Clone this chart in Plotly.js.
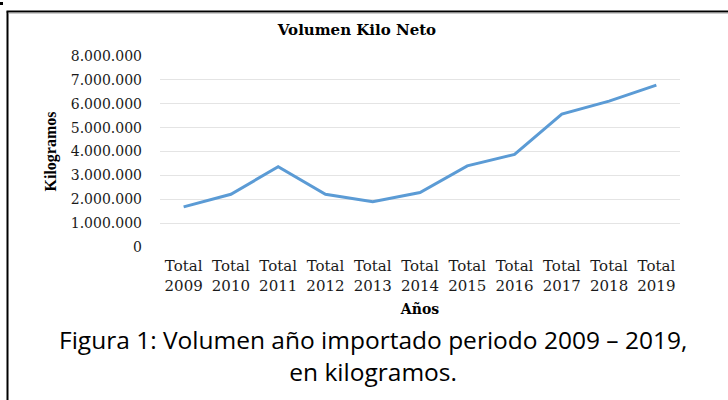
<!DOCTYPE html>
<html>
<head>
<meta charset="utf-8">
<script src="https://cdn.plot.ly/plotly-3.0.1.min.js"></script>
<style>
html,body{margin:0;padding:0;background:#fff;}
#chart{width:728px;height:400px;}
</style>
</head>
<body>
<div id="chart"></div>
<script>
// Data
var years = ['2009','2010','2011','2012','2013','2014','2015','2016','2017','2018','2019'];
var categoryLabels = years.map(function(y){ return 'Total<br>' + y; });
var volumenKilos = [1680000, 2210000, 3360000, 2210000, 1900000, 2280000, 3400000, 3880000, 5570000, 6110000, 6780000];
var captionLines = ['Figura 1: Volumen año importado periodo 2009 – 2019,', 'en kilogramos.'];

var W = 728, H = 400;
var L = 160, R = 48, T = 56, B = 153;
var pw = W - L - R, ph = H - T - B;
function px(x){ return (x - L) / pw; }
function py(y){ return (H - B - y) / ph; }

var trace = {
  x: categoryLabels,
  y: volumenKilos,
  type: 'scatter',
  mode: 'lines',
  line: {color: '#5B9BD5', width: 3},
  hoverinfo: 'x+y'
};

var serif = '"Liberation Serif", "Times New Roman", serif';
var wideSerif = '"DejaVu Serif", serif';
var captionFont = {family: '"Open Sans", "Noto Sans", sans-serif', size: 24.5, color: '#000000'};

var layout = {
  width: W, height: H,
  margin: {l: L, r: R, t: T, b: B},
  paper_bgcolor: '#ffffff',
  plot_bgcolor: '#ffffff',
  separators: ',.',
  showlegend: false,
  title: {
    text: '<b>Volumen Kilo Neto</b>',
    font: {family: wideSerif, size: 15, color: '#000000'},
    xref: 'container', x: 357 / W, xanchor: 'center',
    yref: 'container', y: 1 - 30 / H, yanchor: 'middle'
  },
  xaxis: {
    type: 'category',
    range: [-0.5, 10.5],
    showgrid: false,
    zeroline: false,
    showline: false,
    ticks: '',
    ticklabelstandoff: 8,
    tickfont: {family: wideSerif, size: 15, color: '#1a1a1a'},
    title: {
      text: '<b>Años</b>',
      font: {family: wideSerif, size: 14, color: '#000000'},
      standoff: 10
    },
    fixedrange: true
  },
  yaxis: {
    range: [0, 8000000],
    dtick: 1000000,
    tick0: 0,
    tickformat: ',d',
    showgrid: true,
    gridcolor: '#E4E4E4',
    gridwidth: 1,
    zeroline: false,
    showline: false,
    ticks: '',
    ticklabelstandoff: 17,
    tickfont: {family: wideSerif, size: 14, color: '#1a1a1a'},
    title: {
      text: '<b>Kilogramos</b>',
      font: {family: serif, size: 16, color: '#000000'},
      standoff: 10
    },
    fixedrange: true
  },
  annotations: [
    {
      text: captionLines.join('<br>'),
      xref: 'paper', yref: 'paper',
      x: px(373), y: py(355),
      xanchor: 'center', yanchor: 'middle',
      showarrow: false,
      align: 'center',
      font: captionFont
    }
  ],
  shapes: [
    {type: 'line', xref: 'paper', yref: 'paper',
     x0: px(7.5), x1: px(7.5), y0: py(400), y1: py(11.5),
     line: {color: '#000000', width: 2}},
    {type: 'line', xref: 'paper', yref: 'paper',
     x0: px(6.5), x1: px(728), y0: py(11.5), y1: py(11.5),
     line: {color: '#000000', width: 2}},
    {type: 'line', xref: 'paper', yref: 'paper',
     x0: px(8.5), x1: px(728), y0: py(13), y1: py(13),
     line: {color: '#9a9a9a', width: 1}},
    {type: 'rect', xref: 'paper', yref: 'paper',
     x0: px(0), x1: px(3), y0: py(5), y1: py(2),
     fillcolor: '#000000', line: {width: 0}}
  ]
};

Plotly.newPlot('chart', [trace], layout, {displayModeBar: false});
</script>
</body>
</html>
